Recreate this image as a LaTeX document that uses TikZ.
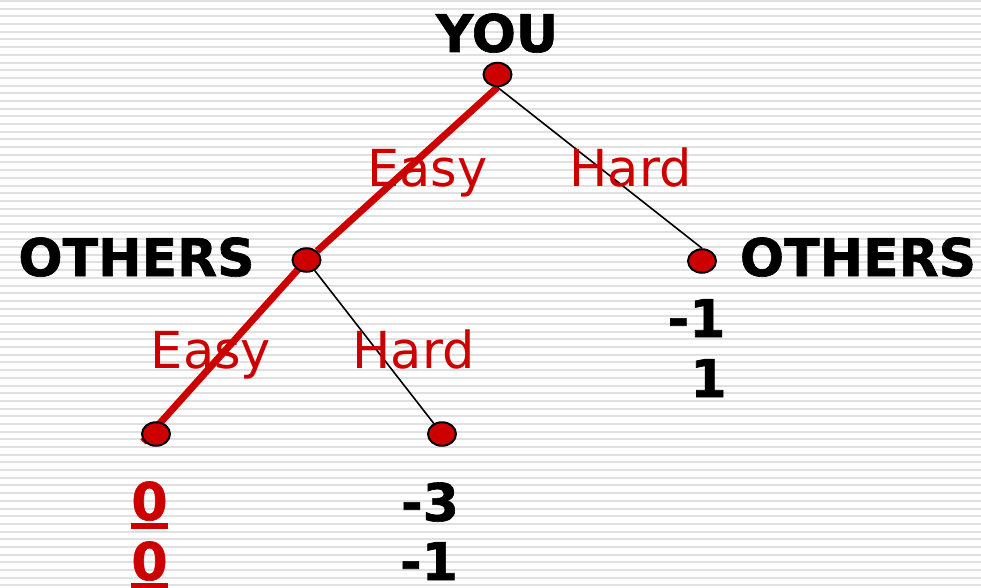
\documentclass[tikz,border=0pt]{standalone}
\usepackage{fontspec}
\setmainfont{DejaVu Sans}[BoldFeatures={FakeBold=1.2}]
\usetikzlibrary{shapes.geometric}
\definecolor{gred}{HTML}{CC0000}
\definecolor{stripe}{HTML}{E0E0E0}
\pgfdeclarelayer{back}
\pgfdeclarelayer{mid}
\pgfsetlayers{back,mid,main}
\begin{document}
\begin{tikzpicture}[x=1pt,y=-1pt,
 dot/.style={ellipse,draw=black,line width=2pt,fill=gred,minimum width=28pt,minimum height=23.5pt,inner sep=0},
 boldtxt/.style={font=\fontsize{52}{52}\selectfont\bfseries,inner sep=0,anchor=base},
 redbold/.style={boldtxt,text=gred},
 movetxt/.style={font=\fontsize{51}{51}\selectfont,text=gred,inner sep=0,anchor=base},
 eqline/.style={line width=7pt,draw=gred},
 thinline/.style={line width=1.6pt,draw=black},
 uline/.style={fill=gred,draw=none}]
\useasboundingbox (0,0) rectangle (981,588);
\begin{pgfonlayer}{back}
\fill[white] (0,0) rectangle (981,588);
\foreach \i in {0,...,76} {
  \fill[stripe] (0,{\i*7.69}) rectangle (981,{\i*7.69+2});
}
\end{pgfonlayer}
% nodes
\node[dot] (root) at (497.5,74.5) {};
\node[dot] (L) at (306.5,260) {};
\node[dot] (R) at (702,261) {};
\node[dot] (LL) at (156,434) {};
\node[dot] (LR) at (442,434) {};
\coordinate (llend) at (143,442);
% connectors
\begin{pgfonlayer}{mid}
\draw[thinline] (root.south) -- (R.north);
\draw[thinline] (L.center) -- (LR.center);
\draw[eqline] (root.south) -- (L.north east);
\draw[eqline] (L.center) -- (llend);
\end{pgfonlayer}
% labels
\node[boldtxt] (you) at (497,52) {YOU};
\node[boldtxt] (othl) at (136.5,276) {OTHERS};
\node[boldtxt] (othr) at (858,276) {OTHERS};
\node[movetxt] (e1) at (427.5,186) {Easy};
\node[movetxt] (h1) at (630.5,186) {Hard};
\node[movetxt] (e2) at (211,368) {Easy};
\node[movetxt] (h2) at (413.5,368) {Hard};
\node[boldtxt] (r1) at (696.5,337) {-1};
\node[boldtxt] (r2) at (708.5,397) {1};
\node[redbold] (a1) at (149.5,520) {0};
\node[redbold] (a2) at (149.5,580) {0};
\node[boldtxt] (b1) at (430,521) {-3};
\node[boldtxt] (b2) at (429,580) {-1};
\fill[uline] (131,523) rectangle (168,529);
\fill[uline] (131,583) rectangle (168,589);
\end{tikzpicture}
\end{document}
